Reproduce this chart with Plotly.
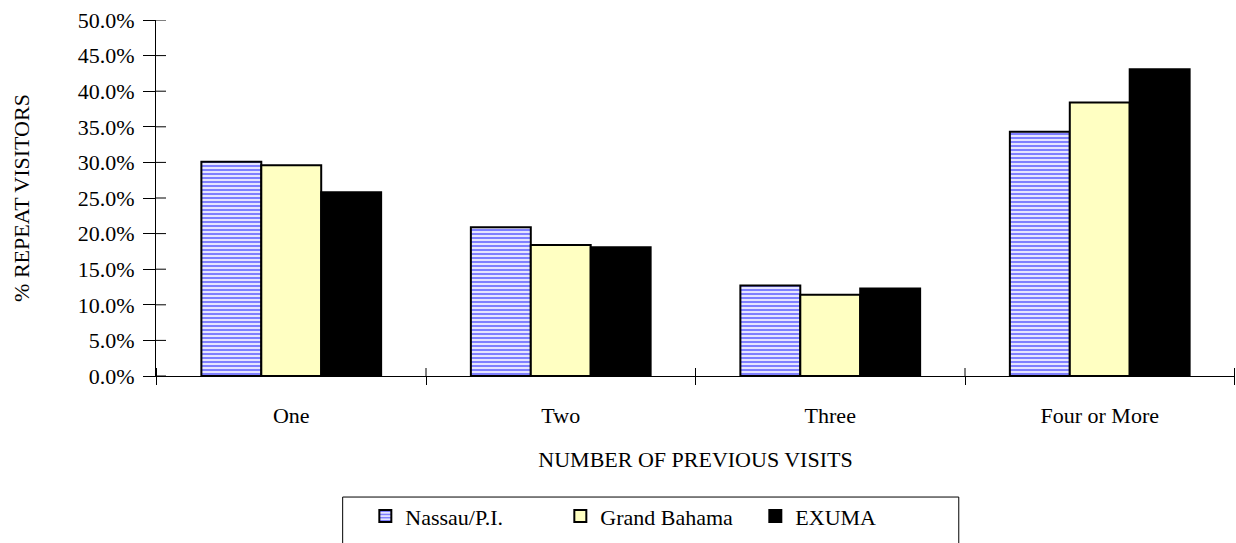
import plotly.graph_objects as go

# Share of repeat visitors by number of previous visits
categories = ["One", "Two", "Three", "Four or More"]
nassau = [0.301, 0.209, 0.127, 0.343]
grand_bahama = [0.296, 0.184, 0.114, 0.384]
exuma = [0.258, 0.181, 0.123, 0.431]

y_ticks = [0.0, 0.05, 0.10, 0.15, 0.20, 0.25, 0.30, 0.35, 0.40, 0.45, 0.50]
x_bounds = [-0.5, 0.5, 1.5, 2.5, 3.5]

FONT = "Liberation Serif"
outline = dict(color="black", width=2)

fig = go.Figure()
fig.add_trace(go.Bar(
    name="Nassau/P.I.", x=categories, y=nassau,
    marker=dict(color="white", line=outline,
                pattern=dict(shape="-", fgcolor="#0000FF", bgcolor="white",
                             size=4, solidity=0.6, fillmode="overlay")),
))
fig.add_trace(go.Bar(
    name="Grand Bahama", x=categories, y=grand_bahama,
    marker=dict(color="#FFFFC2", line=outline),
))
fig.add_trace(go.Bar(
    name="EXUMA", x=categories, y=exuma,
    marker=dict(color="black", line=outline),
))

# inner halves of the cross-shaped tick marks
tick_line = dict(color="black", width=1)
for v in y_ticks:
    fig.add_shape(type="line", xref="x domain", yref="y",
                  xsizemode="pixel", xanchor=0, x0=0, x1=10,
                  y0=v, y1=v, line=tick_line)
for b in x_bounds:
    fig.add_shape(type="line", xref="x", yref="y",
                  ysizemode="pixel", yanchor=0, y0=0, y1=8,
                  x0=b, x1=b, line=tick_line)

# frame around the legend
fig.add_shape(type="rect", xref="paper", yref="paper",
              x0=0.173, x1=0.744, y0=-0.52, y1=-0.340,
              line=dict(color="black", width=1), fillcolor="rgba(0,0,0,0)")

fig.update_layout(
    width=1236, height=543,
    margin=dict(l=156, r=1, t=20, b=167),
    paper_bgcolor="white", plot_bgcolor="white",
    font=dict(family=FONT, size=22, color="black"),
    barmode="group", bargap=0.333, bargroupgap=0,
    showlegend=True,
    legend=dict(
        orientation="h", x=0.194, xanchor="left", y=-0.335, yanchor="top",
        borderwidth=0, bgcolor="rgba(0,0,0,0)",
        font=dict(family=FONT, size=22),
        entrywidth=150, entrywidthmode="pixels",
        itemwidth=30, traceorder="normal",
    ),
    xaxis=dict(
        type="category", showline=True, linecolor="black", linewidth=1,
        ticks="outside", ticklen=8, tickcolor="black", tickwidth=1,
        tickson="boundaries", showgrid=False, zeroline=False,
        ticklabelstandoff=20,
        title=dict(text="NUMBER OF PREVIOUS VISITS", standoff=24,
                   font=dict(family=FONT, size=22)),
    ),
    yaxis=dict(
        range=[0, 0.5], tickvals=y_ticks, tickformat=".1%",
        showline=True, linecolor="black", linewidth=1,
        ticks="outside", ticklen=12, tickcolor="black", tickwidth=1,
        showgrid=False, zeroline=False, ticklabelstandoff=4,
        title=dict(text="% REPEAT VISITORS", standoff=42,
                   font=dict(family=FONT, size=22)),
    ),
)

fig.write_html("out.html")
